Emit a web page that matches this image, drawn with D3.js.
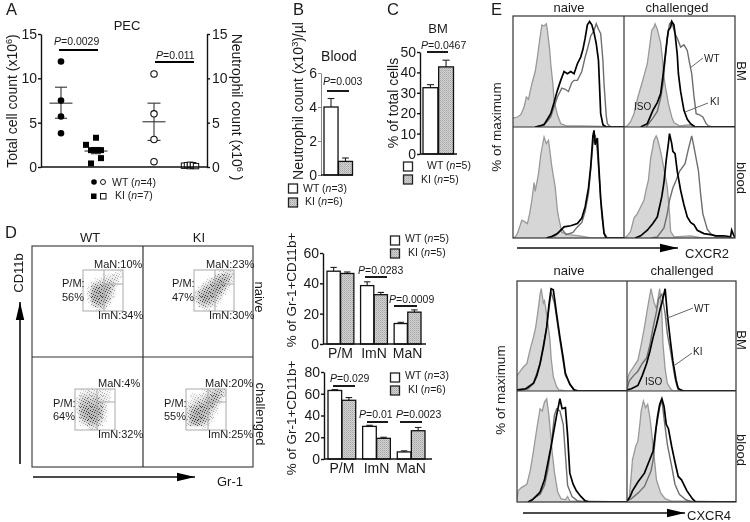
<!DOCTYPE html>
<html><head><meta charset="utf-8">
<script src="https://cdn.jsdelivr.net/npm/d3@7"></script>
<style>
html,body{margin:0;padding:0;background:#fff}
svg{display:block;filter:blur(0.35px)}
text{font-family:"Liberation Sans",Arial,sans-serif;fill:#1a1a1a}
</style></head><body>
<script>
/* ---------- Panel A ---------- */
const wtTotal = [11.9, 7.5, 5.7, 3.8];
const kiTotal = [3.3, 2.5, 1.9, 1.9, 1.9, 1.0, 0.4];
const kiTotalCols = [0, -2, -1, 0, 1, 1, -1];
const wtNeut = [10.5, 6.0, 3.1, 0.6];
const kiNeut = [0.15, 0.2, 0.1, 0.25, 0.15, 0.2, 0.1];
const kiNeutCols = [-2, -1, 0, 0, 1, 1, 2];
const aSummaryMean = [7.2, 1.8, 5.1, 0.2];
const aSummaryLow = [5.5, 1.5, 3.0, 0.1];
const aSummaryHigh = [9.0, 2.2, 7.2, 0.3];
const aTicks = [0, 5, 10, 15];

/* ---------- Bars B, C, D ---------- */
const barSeries = ["WT", "KI"];
const bloodValues = [4.0, 0.8];
const bloodErr = [4.5, 1.0];
const bloodTicks = [0, 2, 4, 6];
const bmValues = [32.5, 42.7];
const bmErr = [34, 46];
const bmTicks = [0, 10, 20, 30, 40, 50];
const subsetCategories = ["P/M", "ImN", "MaN"];
const naiveWT = [48, 38.5, 13.5];
const naiveKI = [46.5, 32.5, 21];
const naiveWTErr = [50.5, 41, 14.3];
const naiveKIErr = [47.5, 34, 22.5];
const naiveTicks = [0, 20, 40, 60];
const challWT = [63, 30, 6.5];
const challKI = [54, 19, 26];
const challWTErr = [63.8, 31, 7.5];
const challKIErr = [56.5, 20, 29];
const challTicks = [0, 20, 40, 60, 80];

/* ---------- Flow density (0-9) ---------- */
const cloudWTNaive = [
 [0,0,0,0,0,0,0,0,1,1],[0,0,0,0,0,1,1,2,2,1],[0,0,0,1,2,3,3,3,2,0],[0,0,3,5,6,6,6,4,1,0],[0,1,6,8,8,8,7,4,0,0],
 [0,2,8,9,9,8,6,2,0,0],[0,2,8,9,9,8,5,1,0,0],[0,1,7,8,8,7,3,0,0,0],[0,0,3,6,6,4,1,0,0,0],[0,0,0,1,2,1,0,0,0,0]];
const cloudKINaive = [
 [0,0,0,0,0,0,1,2,3,2],[0,0,0,0,0,3,5,6,5,3],[0,0,0,1,4,6,8,8,6,1],[0,0,2,4,7,8,9,8,3,0],[0,2,5,7,8,9,8,5,1,0],
 [2,6,8,8,9,8,6,2,0,0],[3,7,9,9,8,6,3,0,0,0],[2,6,8,7,6,3,1,0,0,0],[0,3,5,4,3,1,0,0,0,0],[0,0,1,1,0,0,0,0,0,0]];
const cloudWTChall = [
 [0,1,1,2,2,1,2,1,1,0],[0,2,3,3,3,3,2,2,1,0],[1,4,5,5,5,5,3,2,1,0],[1,6,7,7,7,6,5,2,0,0],[1,6,8,8,8,8,6,2,0,0],
 [1,7,8,9,9,8,7,2,0,0],[0,6,8,9,9,8,6,1,0,0],[0,3,6,8,8,7,4,1,0,0],[0,1,2,5,6,5,2,0,0,0],[0,0,0,1,2,2,0,0,0,0]];
const cloudKIChall = [
 [0,0,0,0,1,2,4,5,5,3],[0,1,1,1,2,4,6,8,6,2],[0,1,2,3,4,6,8,7,3,0],[1,2,4,6,7,8,8,5,1,0],[2,5,7,8,8,8,6,2,0,0],
 [3,7,9,9,8,6,3,1,0,0],[3,8,9,9,8,5,2,0,0,0],[3,8,9,9,7,4,1,0,0,0],[2,6,7,6,4,1,0,0,0,0],[0,0,0,0,1,0,0,0,0,0]];
const subsetLabels = [["MaN:10%","P/M:","56%","ImN:34%"],["MaN:23%","P/M:","47%","ImN:30%"],["MaN:4%","P/M:","64%","ImN:32%"],["MaN:20%","P/M:","55%","ImN:25%"]];

/* ---------- Histograms: [fluorescence channel 0-100, % of maximum] ---------- */
const x2BmNaiveIso = [[0,8],[4,9],[7,11],[10,18],[12,27],[14,25],[17,39],[20,50],[22,63],[24,78],[26,92],[28,91],[30,93],[31,87],[33,70],[34,57],[36,38],[37,24],[40,11],[43,3],[48,1],[60,1],[100,0]];
const x2BmNaiveWT = [[20,0],[25,1],[30,4],[34,9],[37,18],[40,27],[44,35],[47,34],[50,32],[53,40],[55,42],[58,42],[62,50],[65,63],[67,70],[70,82],[73,87],[75,93],[77,88],[79,84],[81,60],[82,39],[84,10],[85,3],[88,0],[100,0]];
const x2BmNaiveKI = [[20,0],[28,2],[34,12],[37,22],[40,33],[43,42],[46,50],[49,48],[52,50],[55,48],[58,57],[61,63],[63,70],[65,80],[67,92],[69,95],[71,92],[73,85],[75,75],[77,60],[79,12],[81,2],[84,0],[100,0]];
const x2BmChalIso = [[0,0],[3,1],[6,5],[9,12],[12,25],[16,39],[18,46],[21,57],[23,72],[25,87],[27,90],[28,93],[30,88],[33,76],[35,58],[36,45],[38,32],[40,21],[43,9],[45,4],[50,1],[60,2],[65,0],[100,0]];
const x2BmChalWT = [[20,0],[26,8],[30,14],[33,26],[35,38],[37,60],[39,80],[41,93],[43,95],[46,84],[48,80],[51,72],[54,74],[57,69],[59,58],[61,48],[63,28],[65,12],[68,11],[71,9],[74,3],[76,1],[80,0],[100,0]];
const x2BmChalKI = [[15,0],[21,3],[26,15],[30,22],[33,30],[35,45],[37,63],[39,80],[40,87],[42,90],[43,95],[45,92],[46,84],[48,65],[49,48],[51,32],[54,15],[57,7],[60,3],[64,0],[100,0]];
const x2BloodNaiveIso = [[0,0],[2,1],[4,4],[6,10],[8,16],[10,15],[13,13],[15,22],[17,34],[19,50],[20,42],[23,58],[25,75],[28,91],[30,85],[32,88],[34,72],[35,64],[38,46],[40,25],[41,19],[44,5],[50,3],[60,2],[70,0],[100,0]];
const x2BloodNaiveWT = [[30,0],[38,2],[44,8],[48,3],[54,5],[58,10],[62,14],[65,24],[68,40],[70,62],[72,85],[74,93],[76,78],[78,50],[80,20],[82,5],[85,0],[100,0]];
const x2BloodNaiveKI = [[30,0],[34,1],[40,4],[46,10],[52,11],[58,13],[62,18],[65,28],[68,45],[70,64],[72,92],[73,97],[74,84],[76,90],[77,70],[79,35],[82,4],[84,0],[100,0]];
const x2BloodChalIso = [[0,0],[3,2],[6,6],[9,18],[12,22],[15,28],[18,34],[20,44],[22,52],[24,72],[26,82],[27,88],[29,92],[30,90],[32,82],[34,73],[36,62],[39,46],[41,22],[42,6],[45,1],[60,2],[70,0],[100,0]];
const x2BloodChalWT = [[25,0],[30,1],[36,9],[39,22],[41,34],[44,45],[47,52],[50,60],[55,67],[58,80],[61,92],[63,82],[67,61],[69,40],[71,22],[75,8],[78,4],[83,1],[100,0]];
const x2BloodChalKI = [[10,0],[15,2],[21,7],[26,13],[30,19],[34,37],[36,50],[38,70],[40,85],[41,94],[43,85],[44,78],[46,76],[48,60],[51,43],[54,30],[57,19],[60,14],[63,12],[66,7],[72,4],[78,3],[83,2],[90,2],[96,1],[97,7],[99,2],[100,1]];

const x4BmNaiveIso = [[0,14],[3,18],[6,22],[9,25],[12,38],[15,49],[17,58],[19,72],[21,88],[22,93],[24,80],[25,82],[26,76],[28,62],[30,46],[31,30],[33,13],[36,4],[38,1],[45,0],[100,0]];
const x4BmNaiveWT = [[0,0],[10,2],[15,7],[21,25],[27,58],[31,90],[34,80],[39,46],[44,14],[52,0],[100,0]];
const x4BmNaiveKI = [[0,1],[8,2],[15,7],[18,14],[21,25],[24,40],[27,58],[29,78],[31,93],[33,92],[34,85],[36,70],[39,49],[42,30],[44,16],[48,6],[52,1],[56,0],[100,0]];
const x4BmChalIso = [[0,8],[2,16],[6,22],[10,28],[13,42],[16,58],[19,76],[22,93],[24,84],[25,80],[27,75],[30,93],[32,70],[33,43],[35,20],[37,7],[40,2],[42,0],[100,0]];
const x4BmChalWT = [[0,2],[2,9],[6,14],[10,18],[14,25],[18,30],[21,42],[24,58],[27,72],[29,84],[32,88],[35,70],[37,52],[40,36],[44,12],[46,4],[50,0],[100,0]];
const x4BmChalKI = [[0,1],[4,2],[10,5],[14,14],[18,25],[21,36],[24,49],[27,60],[30,73],[32,80],[35,93],[37,70],[38,61],[40,44],[42,28],[45,10],[47,2],[52,0],[100,0]];
const x4BloodNaiveIso = [[0,2],[1,10],[4,13],[9,16],[12,28],[15,46],[18,66],[21,84],[23,82],[25,90],[27,93],[29,78],[30,67],[32,45],[34,27],[37,9],[40,3],[44,2],[46,5],[48,1],[100,0]];
const x4BloodNaiveWT = [[10,0],[21,7],[25,15],[28,29],[31,50],[34,78],[36,84],[39,82],[42,70],[46,15],[50,5],[55,1],[60,0],[100,0]];
const x4BloodNaiveKI = [[10,0],[14,2],[21,9],[25,20],[28,35],[31,50],[34,67],[36,78],[38,88],[39,93],[41,84],[44,85],[46,60],[48,26],[51,16],[54,10],[58,5],[62,1],[66,0],[100,0]];
const x4BloodChalIso = [[0,1],[2,3],[4,25],[5,38],[8,50],[10,55],[12,72],[13,82],[15,91],[17,85],[19,88],[21,76],[22,68],[25,40],[27,20],[31,8],[35,3],[40,1],[100,0]];
const x4BloodChalWT = [[0,1],[4,3],[10,8],[16,14],[22,28],[24,38],[27,68],[30,85],[32,92],[34,75],[37,52],[41,32],[44,16],[48,7],[54,2],[60,0],[100,0]];
const x4BloodChalKI = [[0,1],[3,5],[5,10],[10,18],[16,26],[20,36],[24,46],[26,62],[28,77],[30,88],[32,93],[34,86],[36,70],[38,66],[41,50],[44,36],[47,23],[50,20],[55,10],[60,3],[63,0],[100,0]];

/* ---------- setup ---------- */
const svg = d3.select("body").append("svg").attr("width",750).attr("height",522).attr("viewBox","0 0 750 522");
const defs = svg.append("defs");
const stip = defs.append("pattern").attr("id","stip").attr("width",2).attr("height",2).attr("patternUnits","userSpaceOnUse");
stip.append("rect").attr("width",2).attr("height",2).attr("fill","#d2d2d2");
stip.append("rect").attr("width",1).attr("height",1).attr("fill","#a6a6a6");
stip.append("rect").attr("x",1).attr("y",1).attr("width",1).attr("height",1).attr("fill","#bababa");
/* irregular stipple tile used only as a texture for the density cells */
const stippleTile = [[0,1],[1,6],[1,9],[2,3],[3,0],[3,7],[4,4],[4,10],[5,2],[5,8],[6,5],[6,0],[7,3],[7,9],[8,6],[8,1],[9,4],[9,10],[10,2],[10,7],[2,10],[0,5]];
const dots = defs.append("pattern").attr("id","dots").attr("width",11).attr("height",11).attr("patternUnits","userSpaceOnUse");
dots.selectAll("rect").data(stippleTile).join("rect")
  .attr("x",d=>d[0]).attr("y",d=>d[1]).attr("width",1).attr("height",1).attr("fill","#333");
defs.append("filter").attr("id","soft").attr("x","-20%").attr("y","-20%").attr("width","140%").attr("height","140%")
  .append("feGaussianBlur").attr("stdDeviation",1.3);

function txt(str,x,y,size,opt={}){
  const t=svg.append("text").attr("font-size",size).attr("text-anchor",opt.anchor||"start");
  if(opt.rot!==undefined) t.attr("transform",`translate(${x},${y}) rotate(${opt.rot})`); else t.attr("x",x).attr("y",y);
  let pending=0;
  str.split(/(\*[^*]+\*|\^[^^]+\^)/).filter(Boolean).forEach(p=>{
    let s;
    if(p[0]==="*") { s=t.append("tspan").attr("font-style","italic").text(p.slice(1,-1)); }
    else if(p[0]==="^"){ s=t.append("tspan").attr("font-size",size*0.65).text(p.slice(1,-1)); s.attr("dy",-size*0.35); pending=size*0.35; return; }
    else s=t.append("tspan").text(p);
    if(pending){ s.attr("dy",pending); pending=0; }
  });
  return t;
}
function seg(x1,y1,x2,y2,w=1.5,c="#111"){ svg.append("line").attr("x1",x1).attr("y1",y1).attr("x2",x2).attr("y2",y2).attr("stroke",c).attr("stroke-width",w); }
function arrow(x1,y1,x2,y2){
  seg(x1,y1,x2,y2,1.6);
  const L=18,H=4.2;
  if(y1===y2) svg.append("path").attr("d",d3.line()([[x2,y2],[x2-L,y2-H],[x2-L,y2+H]])+"Z").attr("fill","#000");
  else svg.append("path").attr("d",d3.line()([[x2,y2],[x2-H,y2+L],[x2+H,y2+L]])+"Z").attr("fill","#000");
}
function axis(scale,x,ticks,opt={}){
  const gen=(opt.right?d3.axisRight:d3.axisLeft)(scale).tickValues(ticks).tickFormat(d3.format("d")).tickSize(3).tickPadding(opt.pad||1).tickSizeOuter(0);
  const g=svg.append("g").attr("transform",`translate(${x},0)`).call(gen);
  g.selectAll("text").attr("font-size",opt.size||14).attr("font-family",'"Liberation Sans",Arial,sans-serif').attr("fill","#1a1a1a");
  g.selectAll("line,path").attr("stroke",opt.color||"#111").attr("stroke-width",opt.w||1.4);
  return g;
}
function pval(label,tx,ty,x1,x2,y){ txt(label,tx,ty,10.5); seg(x1,y,x2,y,1.8,"#000"); }
function swatch(x,y,kind){ svg.append("rect").attr("x",x).attr("y",y).attr("width",9).attr("height",9)
  .attr("fill",kind==="WT"?"#fff":"url(#stip)").attr("stroke","#222").attr("stroke-width",1.3); }
function barLegend(sx,y1,y2,tx1,tx2,n1,n2,b1,b2,size=10.5){
  swatch(sx,y1,"WT"); swatch(sx,y2,"KI");
  txt(`WT  (*n*=${n1})`,tx1,b1,size); txt(`KI  (*n*=${n2})`,tx2,b2,size);
}
function drawBar(x,w,yScale,v,err,series,base){
  const xm=x+w/2;
  seg(xm,yScale(v),xm,yScale(err),1.1,"#222"); seg(xm-w*0.24,yScale(err),xm+w*0.24,yScale(err),1.1,"#222");
  svg.append("rect").attr("x",x).attr("y",yScale(v)).attr("width",w).attr("height",yScale(base)-yScale(v))
    .attr("fill",series==="WT"?"#fff":"url(#stip)").attr("stroke","#111").attr("stroke-width",1.3);
}

/* ---------- letters ---------- */
[["A",6,15],["B",293,15],["C",387,15],["D",5,238],["E",491,15]].forEach(d=>txt(d[0],d[1],d[2],16.5));

/* ---------- Panel A ---------- */
{
  const y=d3.scaleLinear().domain([0,15]).range([167,34]);
  const groups=d3.scaleOrdinal().domain(["wtTotal","kiTotal","wtNeut","kiNeut"]).range([61,96,154,190]);
  const dash=[11.5,11.5,11.5,9], cap=[6,5,6.5,4];
  ["wtTotal","kiTotal","wtNeut","kiNeut"].forEach((g,i)=>{
    const x=groups(g);
    seg(x-dash[i],y(aSummaryMean[i]),x+dash[i],y(aSummaryMean[i]),1.1,"#333");
    seg(x,y(aSummaryLow[i]),x,y(aSummaryHigh[i]),1.1,"#333");
    [aSummaryLow[i],aSummaryHigh[i]].forEach(v=>seg(x-cap[i],y(v),x+cap[i],y(v),1.1,"#333"));
  });
  svg.selectAll(null).data(wtTotal).join("circle").attr("cx",groups("wtTotal")).attr("cy",d=>y(d)).attr("r",3.3).attr("fill","#000");
  svg.selectAll(null).data(wtNeut).join("circle").attr("cx",groups("wtNeut")).attr("cy",d=>y(d)).attr("r",3.2).attr("fill","#fff").attr("stroke","#111").attr("stroke-width",1.1);
  svg.selectAll(null).data(kiTotal).join("rect").attr("x",(d,i)=>groups("kiTotal")+kiTotalCols[i]*5-3).attr("y",d=>y(d)-3).attr("width",6).attr("height",6).attr("fill","#000");
  svg.selectAll(null).data(kiNeut).join("rect").attr("x",(d,i)=>groups("kiNeut")+kiNeutCols[i]*3-2.7).attr("y",d=>y(d)-2.7).attr("width",5.4).attr("height",5.4).attr("fill","#fff").attr("stroke","#111").attr("stroke-width",1);
  axis(y,41,aTicks,{pad:1});
  axis(y,207,aTicks,{right:true,pad:2});
  seg(41,167,207,167,1.6);
  txt("PEC",127,30,13,{anchor:"middle"});
  pval("*P*=0.0029",54,45,59,98,50);
  pval("*P*=0.011",156,59,155,194,62);
  txt("Total cell count (x10^6^)",17,101,14,{rot:-90,anchor:"middle"});
  txt("Neutrophil count (x10^6^ )",232,107,14,{rot:90,anchor:"middle"});
  svg.append("circle").attr("cx",94).attr("cy",182).attr("r",2.8).attr("fill","#000");
  svg.append("circle").attr("cx",103).attr("cy",182).attr("r",2.5).attr("fill","#fff").attr("stroke","#111");
  svg.append("rect").attr("x",91).attr("y",193.5).attr("width",5.5).attr("height",5.5).attr("fill","#000");
  svg.append("rect").attr("x",100.5).attr("y",193.5).attr("width",5.5).attr("height",5.5).attr("fill","#fff").attr("stroke","#111");
  txt("WT  (*n*=4)",112,186,10.5); txt("KI  (*n*=7)",115,199,10.5);
}
/* ---------- Panel B ---------- */
{
  const y=d3.scaleLinear().domain([0,6]).range([175,73]);
  const x=d3.scaleBand().domain(barSeries).range([324,352.5]).paddingInner(0.03);
  barSeries.forEach((s,i)=>drawBar(x(s),x.bandwidth(),y,bloodValues[i],bloodErr[i],s,0));
  axis(y,321,bloodTicks,{color:"#888",w:1});
  seg(321,175,353,175,1.4);
  txt("Blood",339,61,14,{anchor:"middle"});
  pval("*P*=0.003",323,85,327,349,91);
  txt("Neutrophil count (x10^3^)/µl",303,101,14,{rot:-90,anchor:"middle"});
  barLegend(288.5,184,198,303,305,3,6,192,205);
}
/* ---------- Panel C ---------- */
{
  const y=d3.scaleLinear().domain([0,50]).range([154,52]);
  const x=d3.scaleBand().domain(barSeries).range([423,453.5]).paddingInner(0.05);
  barSeries.forEach((s,i)=>drawBar(x(s),x.bandwidth(),y,bmValues[i],bmErr[i],s,0));
  axis(y,420,bmTicks);
  seg(420,154,457,154,1.6);
  txt("BM",438,33,13,{anchor:"middle"});
  pval("*P*=0.0467",421,49,427,448,52);
  txt("% of total cells",398,103,14,{rot:-90,anchor:"middle"});
  barLegend(403.5,162,175,427,421,5,5,169,183);
}
/* ---------- Panel D: dot plots ---------- */
{
  svg.append("rect").attr("x",32).attr("y",246).attr("width",221).attr("height",221).attr("fill","none").attr("stroke","#444").attr("stroke-width",1.2);
  seg(143,246,143,467,1.2,"#333"); seg(32,357,253,357,1.2,"#333");
  const gates=[[83,270,cloudWTNaive,104,284],[194,270,cloudKINaive,215,284],[75,389,cloudWTChall,97,402],[186,389,cloudKIChall,208,402]];
  const textPos=[[94,268,62,287,301,98,319],[206,268,172,287,301,209,319],[98,387,53,407,420,98,438],[205,387,164,407,420,208,438]];
  const op=d3.scaleLinear().domain([0,9]).range([0,1]);
  const idx=d3.range(10);
  gates.forEach(([gx,gy,grid,dx,dy],k)=>{
    const cx=d3.scaleBand().domain(idx).range([gx,gx+40]), cy=d3.scaleBand().domain(idx).range([gy,gy+41]);
    const cells=grid.flatMap((row,r)=>row.map((v,c)=>({r,c,v})));
    svg.append("g").attr("filter","url(#soft)").selectAll("rect").data(cells).join("rect")
      .attr("x",d=>cx(d.c)).attr("y",d=>cy(d.r)).attr("width",cx.bandwidth()+.1).attr("height",cy.bandwidth()+.1)
      .attr("fill","#b4b4b4").attr("opacity",d=>op(d.v));
    svg.append("g").selectAll("rect").data(cells).join("rect")
      .attr("x",d=>cx(d.c)).attr("y",d=>cy(d.r)).attr("width",cx.bandwidth()+.1).attr("height",cy.bandwidth()+.1)
      .attr("fill","url(#dots)").attr("opacity",d=>Math.min(1,op(d.v)*0.85+(d.v>0?0.15:0)));
    svg.append("rect").attr("x",gx).attr("y",gy).attr("width",40).attr("height",41).attr("fill","none").attr("stroke","#aaa").attr("stroke-width",1);
    seg(dx,gy,dx,gy+41,1,"#aaa"); seg(dx,dy,gx+40,dy,1,"#aaa");
    const L=subsetLabels[k],P=textPos[k];
    txt(L[0],P[0],P[1],11); txt(L[1],P[2],P[3],11); txt(L[2],P[2],P[4],11); txt(L[3],P[5],P[6],11);
  });
  txt("WT",90,242,13,{anchor:"middle"}); txt("KI",199,242,13,{anchor:"middle"});
  txt("CD11b",23,273,13,{rot:-90,anchor:"middle"});
  txt("naive",255,297,13,{rot:90,anchor:"middle"}); txt("challenged",256,414,13,{rot:90,anchor:"middle"});
  arrow(20,464,20,302); arrow(33,477,195,477);
  txt("Gr-1",217,486,13);
}
/* ---------- Panel D: bars ---------- */
function groupedBars(cfg){
  const y=d3.scaleLinear().domain(cfg.domain).range(cfg.yr);
  const x0=d3.scaleBand().domain(subsetCategories).range(cfg.xr).paddingInner(0.2);
  const x1=d3.scaleBand().domain(barSeries).range([0,x0.bandwidth()]).paddingInner(0.03);
  subsetCategories.forEach((c,i)=>{
    drawBar(x0(c)+x1("WT"),x1.bandwidth(),y,cfg.wt[i],cfg.wtE[i],"WT",0);
    drawBar(x0(c)+x1("KI"),x1.bandwidth(),y,cfg.ki[i],cfg.kiE[i],"KI",0);
    txt(c,x0(c)+x0.bandwidth()/2,cfg.lab,14,{anchor:"middle"});
  });
  axis(y,cfg.axX,cfg.ticks);
  seg(cfg.axX,cfg.yr[0],cfg.end,cfg.yr[0],1.6);
}
groupedBars({domain:[0,60],yr:[344,253],xr:[327,421],wt:naiveWT,ki:naiveKI,wtE:naiveWTErr,kiE:naiveKIErr,ticks:naiveTicks,axX:323,end:426,lab:358});
pval("*P*=0.0283",358,274,365,387,277);
pval("*P*=0.0009",389,303,394,417,306);
txt("% of Gr-1+CD11b+",296,290,13.5,{rot:-90,anchor:"middle"});
barLegend(390.5,236,249,405,408,5,5,242,256);
groupedBars({domain:[0,80],yr:[459,372],xr:[328,425],wt:challWT,ki:challKI,wtE:challWTErr,kiE:challKIErr,ticks:challTicks,axX:324,end:432,lab:473});
pval("*P*=0.029",330,382,333,355,386);
pval("*P*=0.01",359,418,367,388,422);
pval("*P*=0.0023",396,418,400,422,422);
txt("% of Gr-1+CD11b+",296,418,13.5,{rot:-90,anchor:"middle"});
barLegend(390.5,373,386,405,408,3,6,379,393);

/* ---------- Panel E ---------- */
function histPanel(x0,x1,y0,y1,iso,wt,ki){
  const cid="c"+x0+"_"+y0;
  defs.append("clipPath").attr("id",cid).append("rect").attr("x",x0).attr("y",y0).attr("width",x1-x0).attr("height",y1-y0);
  const x=d3.scaleLinear().domain([0,100]).range([x0,x1]), y=d3.scaleLinear().domain([0,100]).range([y1,y0]);
  const g=svg.append("g").attr("clip-path",`url(#${cid})`);
  const line=d3.line().x(d=>x(d[0])).y(d=>y(d[1]));
  const area=d3.area().x(d=>x(d[0])).y0(y1).y1(d=>y(d[1]));
  g.append("path").attr("d",area(iso)).attr("fill","#d6d6d6");
  g.append("path").attr("d",line(iso)).attr("fill","none").attr("stroke","#999").attr("stroke-width",1.3);
  g.append("path").attr("d",line(wt)).attr("fill","none").attr("stroke","#6e6e6e").attr("stroke-width",1.4);
  g.append("path").attr("d",line(ki)).attr("fill","none").attr("stroke","#000").attr("stroke-width",1.7);
}
function histFrame(x0,xm,x1,y0,ym,y1){
  svg.append("rect").attr("x",x0).attr("y",y0).attr("width",x1-x0).attr("height",y1-y0).attr("fill","none").attr("stroke","#333").attr("stroke-width",1.2);
  seg(xm,y0,xm,y1,1.2,"#333"); seg(x0,ym,x1,ym,1.2,"#333");
}
histPanel(513,624,16,127,x2BmNaiveIso,x2BmNaiveWT,x2BmNaiveKI);
histPanel(624,735,16,127,x2BmChalIso,x2BmChalWT,x2BmChalKI);
histPanel(513,624,127,238,x2BloodNaiveIso,x2BloodNaiveWT,x2BloodNaiveKI);
histPanel(624,735,127,238,x2BloodChalIso,x2BloodChalWT,x2BloodChalKI);
histFrame(513,624,735,16,127,238);
histPanel(517,627,281,391,x4BmNaiveIso,x4BmNaiveWT,x4BmNaiveKI);
histPanel(627,736,281,391,x4BmChalIso,x4BmChalWT,x4BmChalKI);
histPanel(517,627,391,502,x4BloodNaiveIso,x4BloodNaiveWT,x4BloodNaiveKI);
histPanel(627,736,391,502,x4BloodChalIso,x4BloodChalWT,x4BloodChalKI);
histFrame(517,627,736,281,391,502);

txt("naive",569,12,13,{anchor:"middle"}); txt("challenged",677,12,13,{anchor:"middle"});
txt("% of maximum",501,127,13.5,{rot:-90,anchor:"middle"});
txt("BM",737,71,13,{rot:90,anchor:"middle"}); txt("blood",737,178,13,{rot:90,anchor:"middle"});
arrow(517,248,678,248); txt("CXCR2",685,258,13);
txt("WT",704,62,10); seg(690,68,703,58,1,"#666");
txt("KI",710,105,10); seg(685,112,708,103,1,"#666");
txt("ISO",634,110,10);

txt("naive",569,275,13,{anchor:"middle"}); txt("challenged",682,275,13,{anchor:"middle"});
txt("% of maximum",505,390,13.5,{rot:-90,anchor:"middle"});
txt("BM",737,340,13,{rot:90,anchor:"middle"}); txt("blood",737,450,13,{rot:90,anchor:"middle"});
arrow(523,513,685,513); txt("CXCR4",687,519.5,13);
txt("WT",694,312,10); seg(665,319,693,308,1,"#666");
txt("KI",693,355,10); seg(675,365,692,353,1,"#666");
txt("ISO",645,385,10);
</script>
</body></html>
